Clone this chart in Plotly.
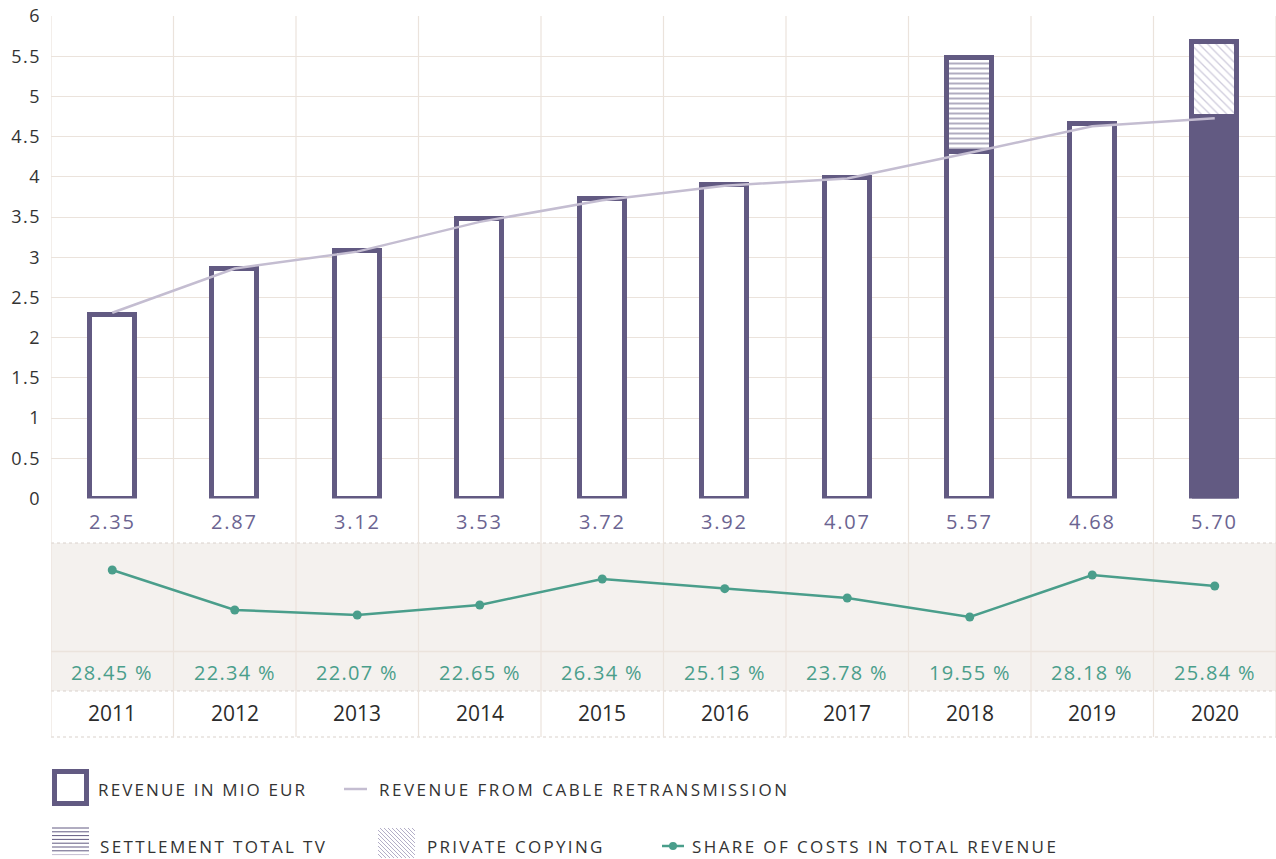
import plotly.graph_objects as go

# ---------------- data ----------------
years = ["2011", "2012", "2013", "2014", "2015", "2016", "2017", "2018", "2019", "2020"]
revenue_labels = ["2.35", "2.87", "3.12", "3.53", "3.72", "3.92", "4.07", "5.57", "4.68", "5.70"]
revenue_base = [2.28, 2.85, 3.08, 3.47, 3.72, 3.90, 3.98, 4.31, 4.66, 4.75]
settlement_tv = [None, None, None, None, None, None, None, 1.17, None, None]
private_copying = [None, None, None, None, None, None, None, None, None, 0.93]
cable_retransmission = [2.31, 2.86, 3.07, 3.44, 3.71, 3.89, 3.98, 4.30, 4.63, 4.73]
share_labels = ["28.45 %", "22.34 %", "22.07 %", "22.65 %", "26.34 %",
                "25.13 %", "23.78 %", "19.55 %", "28.18 %", "25.84 %"]
share_plot = [28.45, 22.34, 21.58, 23.11, 27.08, 25.60, 24.18, 21.27, 27.69, 26.01]
y_ticks = [0, 0.5, 1, 1.5, 2, 2.5, 3, 3.5, 4, 4.5, 5, 5.5, 6]
legend_labels = ["REVENUE IN MIO EUR", "REVENUE FROM CABLE RETRANSMISSION",
                 "SETTLEMENT TOTAL TV", "PRIVATE COPYING", "SHARE OF COSTS IN TOTAL REVENUE"]

# ---------------- style ----------------
W, H = 1276, 859
FONT = "Open Sans"
PURPLE = "#625a82"
PURPLE_TXT = "#6b6491"
LAVENDER = "#c4bdd1"
HATCH2 = "#9f99b9"
GREEN = "#4a9e8b"
GRID = "#ebe3dc"
BAND = "#f4f1ee"
DOT = "#d9d1cb"
TXT = "#2b2b2b"


def yp(py):
    return 1 - py / H


def xp(px):
    return px / W


def spaced(text, px):
    return f'<span style="letter-spacing:{px}px">{text}</span>'


x_idx = list(range(len(years)))
base_colors = ["white"] * 9 + [PURPLE]

fig = go.Figure()

# cable retransmission line (below the bars)
fig.add_trace(go.Scatter(
    x=x_idx, y=cable_retransmission, mode="lines",
    line=dict(color=LAVENDER, width=2.5), name=legend_labels[1],
    xaxis="x", yaxis="y", showlegend=False, hoverinfo="skip"))

fig.add_trace(go.Bar(
    x=x_idx, y=revenue_base, width=0.37,
    marker=dict(color=base_colors, line=dict(color=PURPLE, width=5)),
    name=legend_labels[0], xaxis="x", yaxis="y", showlegend=False))

fig.add_trace(go.Bar(
    x=x_idx, y=settlement_tv, width=0.37,
    marker=dict(color="white", line=dict(color=PURPLE, width=5),
                pattern=dict(shape="-", fgcolor=PURPLE, bgcolor="white",
                             size=5, solidity=0.4)),
    name=legend_labels[2], xaxis="x", yaxis="y", showlegend=False))

fig.add_trace(go.Bar(
    x=x_idx, y=private_copying, width=0.37,
    marker=dict(color="white", line=dict(color=PURPLE, width=5),
                pattern=dict(shape="\\", fgcolor=HATCH2, bgcolor="white",
                             size=6, solidity=0.22)),
    name=legend_labels[3], xaxis="x", yaxis="y", showlegend=False))

# share of costs line
fig.add_trace(go.Scatter(
    x=x_idx, y=share_plot, mode="lines+markers",
    line=dict(color=GREEN, width=2.5), marker=dict(color=GREEN, size=9),
    name=legend_labels[4], xaxis="x", yaxis="y2", showlegend=False))

shapes = []
shapes.append(dict(type="rect", xref="paper", yref="paper",
                   x0=xp(51), x1=1, y0=yp(691), y1=yp(543),
                   fillcolor=BAND, line=dict(width=0), layer="below"))
shapes.append(dict(type="line", xref="paper", yref="paper", x0=xp(51), x1=1,
                   y0=yp(543), y1=yp(543), line=dict(color=DOT, width=1.2, dash="dot"), layer="below"))
shapes.append(dict(type="line", xref="paper", yref="paper", x0=xp(51), x1=1,
                   y0=yp(651.5), y1=yp(651.5), line=dict(color=GRID, width=1.5), layer="below"))
shapes.append(dict(type="line", xref="paper", yref="paper", x0=xp(51), x1=1,
                   y0=yp(691), y1=yp(691), line=dict(color=DOT, width=1.2, dash="dot"), layer="below"))
shapes.append(dict(type="line", xref="paper", yref="paper", x0=xp(51), x1=1,
                   y0=yp(737), y1=yp(737), line=dict(color=DOT, width=1.2, dash="dot"), layer="below"))
for i in range(len(years) + 1):
    shapes.append(dict(type="line", xref="x", yref="paper", x0=i - 0.5, x1=i - 0.5,
                       y0=yp(737), y1=yp(16), line=dict(color=GRID, width=1.2), layer="below"))

# ---------------- legend (drawn) ----------------
shapes.append(dict(type="rect", xref="paper", yref="paper",
                   x0=xp(54.5), x1=xp(86.5), y0=yp(803.5), y1=yp(771.5),
                   fillcolor="white", line=dict(color=PURPLE, width=5)))
shapes.append(dict(type="line", xref="paper", yref="paper",
                   x0=xp(344), x1=xp(367), y0=yp(789), y1=yp(789),
                   line=dict(color=LAVENDER, width=2.5)))
for k in range(8):
    yy = 828 + 3.8 * k
    shapes.append(dict(type="line", xref="paper", yref="paper",
                       x0=xp(52), x1=xp(89), y0=yp(yy), y1=yp(yy),
                       line=dict(color=PURPLE if k < 7 else LAVENDER, width=1)))
bx0, bx1, by0, by1 = 378, 415, 828, 858
bw, bh = bx1 - bx0, by1 - by0
c = -bh
while c < bw:
    t0 = max(0, -c)
    t1 = min(bh, bw - c)
    if t1 > t0:
        shapes.append(dict(type="line", xref="paper", yref="paper",
                           x0=xp(bx0 + c + t0), y0=yp(by0 + t0),
                           x1=xp(bx0 + c + t1), y1=yp(by0 + t1),
                           line=dict(color=HATCH2, width=0.8)))
    c += 4
shapes.append(dict(type="line", xref="paper", yref="paper",
                   x0=xp(662), x1=xp(684), y0=yp(846), y1=yp(846),
                   line=dict(color=GREEN, width=2.5)))
shapes.append(dict(type="circle", xref="paper", yref="paper",
                   x0=xp(669), x1=xp(677), y0=yp(850), y1=yp(842),
                   fillcolor=GREEN, line=dict(width=0)))

annotations = []
for i in x_idx:
    annotations.append(dict(x=i, y=yp(521), xref="x", yref="paper",
                            text=spaced(revenue_labels[i], 1.8),
                            yanchor="middle", showarrow=False,
                            font=dict(family=FONT, size=20, color=PURPLE_TXT)))
    annotations.append(dict(x=i, y=yp(672), xref="x", yref="paper",
                            text=spaced(share_labels[i], 1.3),
                            yanchor="middle", showarrow=False,
                            font=dict(family=FONT, size=20, color=GREEN)))
    annotations.append(dict(x=i, y=yp(713), xref="x", yref="paper", text=years[i],
                            yanchor="middle", showarrow=False,
                            font=dict(family=FONT, size=21, color=TXT)))

legend_pos = [(96, 789), (377, 789), (98, 846), (425, 846), (690, 846)]
legend_spacing = [2.15, 2.5, 2.35, 2.3, 2.4]
for text, (lx, ly), sp in zip(legend_labels, legend_pos, legend_spacing):
    annotations.append(dict(x=xp(lx), y=yp(ly), xref="paper", yref="paper",
                            text=spaced(text, sp),
                            xanchor="left", yanchor="middle", showarrow=False,
                            font=dict(family=FONT, size=17, color="#333333")))

fig.update_layout(
    width=W, height=H,
    margin=dict(l=0, r=0, t=0, b=0, pad=0, autoexpand=False),
    paper_bgcolor="white", plot_bgcolor="rgba(0,0,0,0)",
    barmode="stack", bargap=0,
    showlegend=False,
    font=dict(family=FONT, color=TXT),
    xaxis=dict(domain=[xp(51), 1], range=[-0.5, 9.5], showgrid=False, zeroline=False,
               showticklabels=False, ticks="", fixedrange=True, automargin=False),
    yaxis=dict(domain=[yp(498.5), yp(16)], range=[0, 6],
               tickmode="array", tickvals=y_ticks,
               ticktext=[spaced(f"{v:g}", 1.5) for v in y_ticks],
               showgrid=True, gridcolor=GRID, gridwidth=1.2, zeroline=False,
               showline=False, ticks="", ticklabelstandoff=9, automargin=False,
               tickfont=dict(family=FONT, size=18, color="#333333"), anchor="x"),
    yaxis2=dict(domain=[yp(651), yp(543)], range=[16.08, 32.57], showgrid=False,
                zeroline=False, showticklabels=False, ticks="", anchor="x", automargin=False),
    shapes=shapes,
    annotations=annotations,
)

fig.write_html("out.html", config={"displayModeBar": False},
               post_script="document.body.style.margin='0';document.documentElement.style.overflow='hidden';")
